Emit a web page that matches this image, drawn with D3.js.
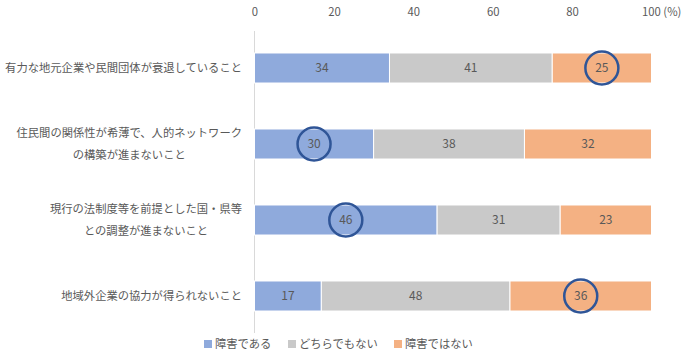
<!DOCTYPE html>
<html lang="ja">
<head>
<meta charset="UTF-8">
<title>障害</title>
<script src="https://cdn.jsdelivr.net/npm/d3@7/dist/d3.min.js"></script>
<style>
  body { margin: 0; background: #fff; }
  text { font-family: "Noto Sans CJK JP", "Noto Sans", sans-serif; fill: #595959; }
  .axis path, .axis line { display: none; }
</style>
</head>
<body>
<script>
  // 項目（改行は \n）
  const categories = [
    '有力な地元企業や民間団体が衰退していること',
    '住民間の関係性が希薄で、人的ネットワーク\nの構築が進まないこと',
    '現行の法制度等を前提とした国・県等\nとの調整が進まないこと',
    '地域外企業の協力が得られないこと'
  ]
  const seriesNames = ['障害である', 'どちらでもない', '障害ではない']
  const obstacle = [34, 30, 46, 17]
  const neither = [41, 38, 31, 48]
  const notObstacle = [25, 32, 23, 36]
  // 丸で囲む系列（0:障害である 2:障害ではない）
  const circled = [2, 0, 0, 2]
  const xTicks = [0, 20, 40, 60, 80, 100]

  const colors = ['#8FAADC', '#C9C9C9', '#F4B183']
  const width = 700, height = 362

  const svg = d3.select('body').append('svg')
    .attr('width', width)
    .attr('height', height)

  const x = d3.scaleLinear().domain([0, 100]).range([254.5, 651.5])
  const y = d3.scaleBand().domain(d3.range(categories.length))
    .range([30, 334]).paddingInner(0.605).paddingOuter(0.3025)

  // 上の目盛り
  const gx = svg.append('g')
    .attr('class', 'axis')
    .attr('transform', 'translate(0,12)')
    .call(d3.axisTop(x).tickValues(xTicks).tickSize(0).tickPadding(0))
  gx.selectAll('text')
    .attr('font-size', '11.3px')
    .attr('dy', '0.32em')
    .text(d => d === 100 ? '100 (%)' : d)
  gx.selectAll('.tick').filter(d => d === 100).select('text')
    .attr('text-anchor', 'start')
    .attr('x', -10)

  // 縦軸の線
  svg.append('line')
    .attr('x1', x(0)).attr('x2', x(0))
    .attr('y1', 31).attr('y2', 333)
    .attr('stroke', '#D9D9D9')
    .attr('stroke-width', 1)

  // 積み上げ（四捨五入で合計が100にならない行は100%に合わせる）
  const rows = categories.map((c, i) => {
    const vals = [obstacle[i], neither[i], notObstacle[i]]
    const total = d3.sum(vals)
    let acc = 0
    return vals.map((v, k) => {
      const seg = { row: i, k: k, v: v, x0: acc / total * 100, x1: (acc + v) / total * 100 }
      acc += v
      return seg
    })
  })
  const segs = rows.flat()

  svg.selectAll('.seg')
    .data(segs)
    .enter()
    .append('rect')
    .attr('class', 'seg')
    .attr('x', d => x(d.x0))
    .attr('y', d => y(d.row))
    .attr('width', d => x(d.x1) - x(d.x0))
    .attr('height', y.bandwidth())
    .attr('fill', d => colors[d.k])
    .attr('stroke', '#fff')
    .attr('stroke-width', 1)

  svg.selectAll('.val')
    .data(segs)
    .enter()
    .append('text')
    .attr('class', 'val')
    .attr('x', d => x((d.x0 + d.x1) / 2))
    .attr('y', d => y(d.row) + y.bandwidth() / 2)
    .attr('dy', '0.35em')
    .attr('text-anchor', 'middle')
    .attr('font-size', '12px')
    .text(d => d.v)

  // 丸
  svg.selectAll('.mark')
    .data(segs.filter(d => circled[d.row] === d.k))
    .enter()
    .append('circle')
    .attr('class', 'mark')
    .attr('cx', d => x((d.x0 + d.x1) / 2))
    .attr('cy', d => y(d.row) + y.bandwidth() / 2)
    .attr('r', 16.5)
    .attr('fill', 'none')
    .attr('stroke', '#2F5597')
    .attr('stroke-width', 2.5)

  // 項目ラベル（複数行は中央揃え、右端をそろえる）
  const labelRight = 242
  categories.forEach((c, i) => {
    const lines = c.split('\n')
    const cy = y(i) + y.bandwidth() / 2
    const g = svg.append('g')
    const ts = g.selectAll('text')
      .data(lines)
      .enter()
      .append('text')
      .attr('font-size', '11.3px')
      .attr('text-anchor', 'middle')
      .attr('y', (d, j) => cy + (j - (lines.length - 1) / 2) * 22)
      .attr('dy', '0.35em')
      .text(d => d)
    let maxW = 0
    ts.each(function () { maxW = Math.max(maxW, this.getComputedTextLength()) })
    ts.attr('x', labelRight - maxW / 2)
  })

  // 凡例
  const legendX = [204, 288, 394]
  const lg = svg.selectAll('.lg')
    .data(seriesNames)
    .enter()
    .append('g')
    .attr('class', 'lg')
    .attr('transform', (d, i) => `translate(${legendX[i]},344)`)
  lg.append('rect')
    .attr('x', 0).attr('y', -4)
    .attr('width', 8).attr('height', 8)
    .attr('fill', (d, i) => colors[i])
  lg.append('text')
    .attr('x', 11)
    .attr('dy', '0.35em')
    .attr('font-size', '11.3px')
    .text(d => d)
</script>
</body>
</html>
